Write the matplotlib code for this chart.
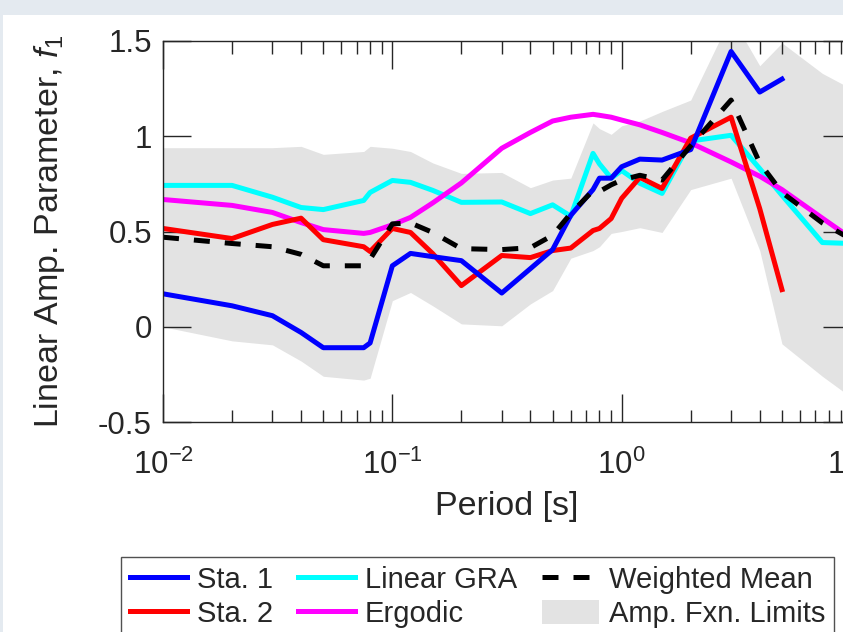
import numpy as np
import matplotlib
matplotlib.use("Agg")
import matplotlib.pyplot as plt
from matplotlib.patches import Rectangle, Patch
from matplotlib.ticker import LogLocator, FixedLocator, NullFormatter

# periods [s]
period = [0.01, 0.02, 0.03, 0.04, 0.05, 0.075, 0.08, 0.1, 0.12, 0.15, 0.2, 0.3, 0.4,
          0.5, 0.6, 0.75, 0.8, 0.9, 1.0, 1.2, 1.5, 2.0, 3.0, 4.0, 5.0, 7.5, 10.0]

sta1 = [0.173, 0.11, 0.058, -0.03, -0.11, -0.11, -0.085, 0.32, 0.385, 0.368, 0.347, 0.177, 0.305,
        0.405, 0.585, 0.72, 0.78, 0.78, 0.84, 0.88, 0.875, 0.93, 1.445, 1.232, 1.30, np.nan, np.nan]
sta2 = [0.516, 0.463, 0.537, 0.57, 0.457, 0.42, 0.395, 0.516, 0.495, 0.384, 0.216, 0.374, 0.363,
        0.40, 0.413, 0.505, 0.516, 0.568, 0.674, 0.784, 0.726, 0.99, 1.10, 0.62, 0.195, np.nan, np.nan]
linear_gra = [0.742, 0.742, 0.68, 0.626, 0.615, 0.663, 0.705, 0.768, 0.758, 0.716, 0.653, 0.655, 0.594,
              0.64, 0.58, 0.91, 0.855, 0.78, 0.82, 0.753, 0.70, 0.975, 1.005, 0.83, 0.69, 0.442, 0.437]
ergodic = [0.668, 0.637, 0.60, 0.547, 0.51, 0.49, 0.495, 0.535, 0.574, 0.65, 0.755, 0.937, 1.02,
           1.08, 1.10, 1.115, 1.11, 1.10, 1.085, 1.06, 1.02, 0.965, 0.865, 0.79, 0.72, 0.57, 0.465]
w_mean = [0.47, 0.437, 0.42, 0.38, 0.32, 0.32, 0.355, 0.54, 0.545, 0.495, 0.41, 0.405, 0.415,
          0.48, 0.595, 0.715, 0.71, 0.745, 0.77, 0.795, 0.77, 0.95, 1.19, 0.86, 0.705, 0.545, 0.46]
lim_hi = [0.94, 0.94, 0.94, 0.947, 0.905, 0.92, 0.947, 0.937, 0.92, 0.86, 0.805, 0.81, 0.73,
          0.77, 0.78, 1.07, 1.04, 1.01, 1.055, 1.08, 1.13, 1.19, 1.63, 1.37, 1.49, 1.33, 1.25]
lim_lo = [0.0, -0.074, -0.095, -0.18, -0.26, -0.28, -0.27, 0.137, 0.18, 0.11, 0.015, 0.005, 0.12,
          0.19, 0.36, 0.40, 0.42, 0.49, 0.50, 0.52, 0.495, 0.72, 0.78, 0.40, -0.09, -0.26, -0.37]

plt.rcParams['font.family'] = ['Liberation Sans', 'DejaVu Sans']
plt.rcParams['mathtext.fontset'] = 'custom'
plt.rcParams['mathtext.rm'] = 'Liberation Sans'
plt.rcParams['mathtext.it'] = 'Liberation Sans:italic'

txt = '#262626'
fig = plt.figure(figsize=(8.43, 6.32), dpi=100, facecolor='#e4eaf0')
fig.patches.append(Rectangle((3 / 843, 0), 1, 1 - 15 / 632, transform=fig.transFigure,
                             facecolor='white', edgecolor='none', zorder=-10))

ax = fig.add_axes([163 / 843, 1 - 422 / 632, 688 / 843, 381 / 632])
ax.fill_between(period, lim_lo, lim_hi, color='#e3e3e3', lw=0)
ax.plot(period, linear_gra, color='#00ffff', lw=3.6)
ax.plot(period, ergodic, color='#ff00ff', lw=3.6)
ax.plot(period, sta2, color='#ff0000', lw=3.6)
ax.plot(period, sta1, color='#0000ff', lw=3.6)
ax.plot(period, w_mean, color='black', lw=3.6, ls=(0, (3.2, 3.0)))

ax.set_xscale('log')
ax.set_xlim(0.01, 10)
ax.set_ylim(-0.5, 1.5)
ax.yaxis.set_major_locator(FixedLocator([-0.5, 0, 0.5, 1, 1.5]))
ax.set_yticklabels(['-0.5', '0', '0.5', '1', '1.5'])
ax.xaxis.set_major_locator(LogLocator(base=10, numticks=10))
ax.xaxis.set_minor_locator(LogLocator(base=10, subs=np.arange(2, 10), numticks=20))
ax.xaxis.set_minor_formatter(NullFormatter())

for s in ax.spines.values():
    s.set_color(txt)
    s.set_linewidth(1.0)
ax.tick_params(which='both', direction='in', top=True, right=True, colors=txt,
               labelsize=22.5, width=1.0)
ax.tick_params(which='major', length=20)
ax.tick_params(which='minor', length=9)
ax.tick_params(axis='y', pad=8)
ax.tick_params(axis='x', pad=20)

ax.set_xlabel('Period [s]', fontsize=24.5, color=txt, labelpad=7)
ax.set_ylabel(r'Linear Amp. Parameter, $f_1$', fontsize=24.5, color=txt)
ax.yaxis.set_label_coords(-0.14, 0.5)

handles = [
    plt.Line2D([], [], color='#0000ff', lw=3.6),
    plt.Line2D([], [], color='#ff0000', lw=3.6),
    plt.Line2D([], [], color='#00ffff', lw=3.6),
    plt.Line2D([], [], color='#ff00ff', lw=3.6),
    plt.Line2D([], [], color='black', lw=3.6, ls=(0, (3.2, 3.0))),
    Patch(facecolor='#e3e3e3', edgecolor='none'),
]
labels = ['Sta. 1', 'Sta. 2', 'Linear GRA', 'Ergodic', 'Weighted Mean', 'Amp. Fxn. Limits']
leg = fig.legend(handles, labels, ncol=3, loc='upper left',
                 bbox_to_anchor=(121 / 843, 1 - 557 / 632), borderaxespad=0,
                 fontsize=21, frameon=True, fancybox=False, handlelength=1.95,
                 handleheight=0.9, handletextpad=0.35, columnspacing=0.85,
                 labelspacing=0.2, borderpad=0.3)
leg.get_frame().set_edgecolor(txt)
leg.get_frame().set_linewidth(1.0)
for t in leg.get_texts():
    t.set_color(txt)

fig.savefig('out.png', dpi=100, facecolor=fig.get_facecolor())
